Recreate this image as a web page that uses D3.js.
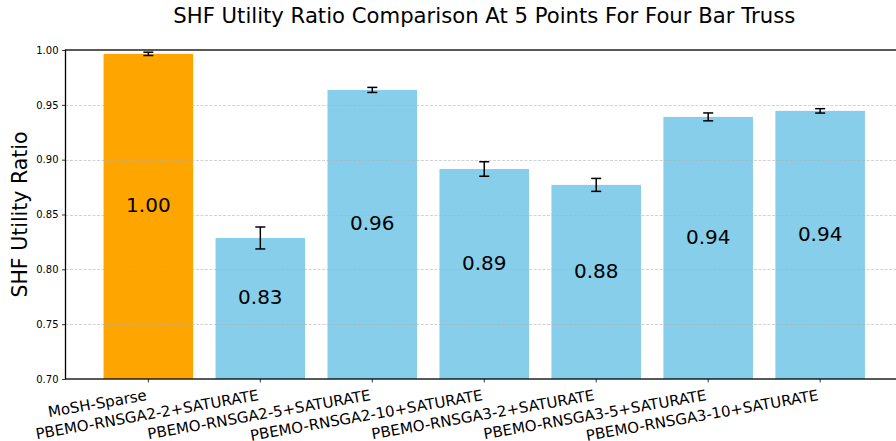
<!DOCTYPE html>
<html>
<head>
<meta charset="utf-8">
<script src="https://cdn.jsdelivr.net/npm/d3@7"></script>
<style>
  html, body { margin: 0; padding: 0; background: #fff; }
  svg { display: block; font-family: "DejaVu Sans", sans-serif; }
</style>
</head>
<body>
<svg id="chart" width="896" height="441"></svg>
<script>
// ---- data ----
const categories = [
  "MoSH-Sparse",
  "PBEMO-RNSGA2-2+SATURATE",
  "PBEMO-RNSGA2-5+SATURATE",
  "PBEMO-RNSGA2-10+SATURATE",
  "PBEMO-RNSGA3-2+SATURATE",
  "PBEMO-RNSGA3-5+SATURATE",
  "PBEMO-RNSGA3-10+SATURATE"
];
const means = [0.9965, 0.8286, 0.9636, 0.8915, 0.8770, 0.9390, 0.9445];
const errors = [0.0015, 0.0100, 0.0023, 0.0066, 0.0059, 0.0036, 0.0020];
const barColors = ["#FFA500", "#87CEEB", "#87CEEB", "#87CEEB", "#87CEEB", "#87CEEB", "#87CEEB"];
const yTicks = [0.70, 0.75, 0.80, 0.85, 0.90, 0.95, 1.00];
const yDomain = [0.70, 1.00];
const title = "SHF Utility Ratio Comparison At 5 Points For Four Bar Truss";
const yLabel = "SHF Utility Ratio";

(function () {
// ---- layout ----
const svg = d3.select("#chart");
const mLeft = 65.5, mRight = 903, mTop = 50, mBottom = 379;

const x = d3.scaleBand().domain(categories).range([mLeft, mRight])
  .paddingInner(0.2).paddingOuter(0.34);
const y = d3.scaleLinear().domain(yDomain).range([mBottom, mTop]);

// bars
svg.append("g").selectAll("rect").data(categories).join("rect")
  .attr("x", d => x(d))
  .attr("width", x.bandwidth())
  .attr("y", (d, i) => y(means[i]))
  .attr("height", (d, i) => mBottom - y(means[i]))
  .attr("fill", (d, i) => barColors[i]);

// grid (drawn over bars, like matplotlib with alpha)
svg.append("g").selectAll("line").data(yTicks.slice(1, -1)).join("line")
  .attr("x1", mLeft).attr("x2", mRight)
  .attr("y1", d => Math.round(y(d)) + 0.5).attr("y2", d => Math.round(y(d)) + 0.5)
  .attr("stroke", "#b0b0b0").attr("stroke-opacity", 0.7)
  .attr("stroke-width", 0.8).attr("stroke-dasharray", "3,1.5");

// error bars
const eg = svg.append("g").attr("stroke", "#000").attr("stroke-width", 1.5);
categories.forEach((c, i) => {
  const cx = x(c) + x.bandwidth() / 2;
  const y1 = y(means[i] - errors[i]), y2 = y(means[i] + errors[i]);
  eg.append("line").attr("x1", cx).attr("x2", cx).attr("y1", y1).attr("y2", y2);
  eg.append("line").attr("x1", cx - 5).attr("x2", cx + 5).attr("y1", y1).attr("y2", y1);
  eg.append("line").attr("x1", cx - 5).attr("x2", cx + 5).attr("y1", y2).attr("y2", y2);
});

// value labels
svg.append("g").selectAll("text").data(categories).join("text")
  .attr("x", d => x(d) + x.bandwidth() / 2)
  .attr("y", (d, i) => y((means[i] + yDomain[0]) / 2) - 4)
  .attr("text-anchor", "middle")
  .attr("font-size", 20)
  .attr("fill", "#000")
  .text((d, i) => means[i].toFixed(2));

// y axis
const yAxis = svg.append("g").attr("transform", `translate(${mLeft},0)`)
  .call(d3.axisLeft(y).tickValues(yTicks).tickFormat(d3.format(".2f")).tickSize(3.5).tickPadding(3.5));
yAxis.select(".domain").remove();
yAxis.selectAll("text").attr("font-size", 10).attr("font-family", "DejaVu Sans").attr("fill", "#000");
yAxis.selectAll("line").attr("stroke", "#000").attr("stroke-width", 0.8);

// x axis
const xAxis = svg.append("g").attr("transform", `translate(0,${mBottom})`)
  .call(d3.axisBottom(x).tickSize(3.5).tickPadding(3.5));
xAxis.select(".domain").remove();
xAxis.selectAll("line").attr("stroke", "#000").attr("stroke-width", 0.8);
xAxis.selectAll("text")
  .attr("font-size", 15).attr("font-family", "DejaVu Sans").attr("fill", "#000")
  .attr("text-anchor", "end")
  .attr("y", 0).attr("dy", 0)
  .attr("transform", "translate(-1,21) rotate(-10)");

// spines
svg.append("rect")
  .attr("x", mLeft).attr("y", mTop)
  .attr("width", mRight - mLeft).attr("height", mBottom - mTop)
  .attr("fill", "none").attr("stroke", "#000").attr("stroke-width", 1.3);

// title
svg.append("text")
  .attr("x", (mLeft + mRight) / 2).attr("y", 23)
  .attr("text-anchor", "middle").attr("font-size", 21.2).attr("fill", "#000")
  .text(title);

// y label
svg.append("text")
  .attr("transform", `translate(27,${(mTop + mBottom) / 2}) rotate(-90)`)
  .attr("text-anchor", "middle").attr("font-size", 20.5).attr("fill", "#000")
  .text(yLabel);
})();
</script>
</body>
</html>
